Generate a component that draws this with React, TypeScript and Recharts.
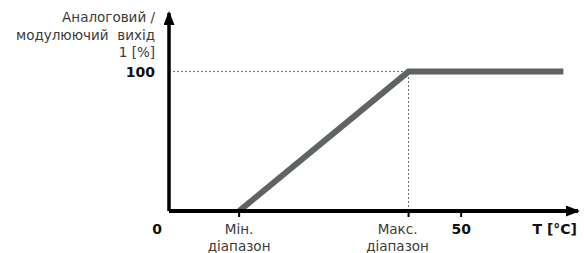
import React from 'react';
import { LineChart, Line, XAxis, YAxis, ReferenceLine } from 'recharts';

// temperature (°C) vs output (%)
const rangeMin = 12;
const rangeMax = 41;
const curveT = [12, 41, 67.5];
const curveOut = [0, 100, 100];
const xTicks = [0, 12, 41, 50, 70];
const xTickLabels: Record<number, string[]> = {
  0: ['0'],
  12: ['Мін.', 'діапазон'],
  41: ['Макс.', 'діапазон'],
  50: ['50'],
  70: ['T [°C]'],
};
const yTicks = [100];
const yTitle = ['Аналоговий /', 'модулюючий  вихід', '1 [%]'];

const data = curveT.map((t, i) => ({ t, out: curveOut[i] }));

const FONT = '"DejaVu Sans", Verdana, sans-serif';
const LINE_COLOR = '#5f6362';
const GUIDE_COLOR = '#6b6b6b';

function XTick({ x, y, payload }: any) {
  const value = payload.value as number;
  const lines = xTickLabels[value] ?? [];
  const bold = value === 0 || value === 50 || value === 70;
  let anchor: 'middle' | 'end' = 'middle';
  let tx = x;
  if (value === 0) tx = x - 12;
  if (value === 70) {
    anchor = 'end';
    tx = x - 1;
  }
  if (value === rangeMax) tx = x - 11;
  const showTick = value === rangeMin || value === rangeMax || value === 50;
  return (
    <g>
      {showTick && <line x1={x} x2={x} y1={y} y2={y + 6} stroke="#000" strokeWidth={2} />}
      <text
        x={tx}
        y={y + 23}
        textAnchor={anchor}
        fontFamily={FONT}
        fontSize={bold ? 14 : 13.5}
        fontWeight={bold ? 'bold' : 'normal'}
        fill={bold ? '#111' : '#3a3a3a'}
      >
        {lines.map((line, i) => (
          <tspan key={i} x={tx} dy={i === 0 ? 0 : 16.5}>
            {line}
          </tspan>
        ))}
      </text>
    </g>
  );
}

function YTick({ x, y, payload }: any) {
  return (
    <text
      x={x - 14}
      y={y}
      dy={5}
      textAnchor="end"
      fontFamily={FONT}
      fontSize={14}
      fontWeight="bold"
      fill="#111"
    >
      {payload.value}
    </text>
  );
}

function YTitle({ viewBox }: any) {
  const right = viewBox.x + viewBox.width - 14;
  return (
    <text
      x={right}
      y={22}
      textAnchor="end"
      fontFamily={FONT}
      fontSize={13.5}
      fill="#3a3a3a"
      style={{ whiteSpace: 'pre' }}
    >
      {yTitle.map((line, i) => (
        <tspan key={i} x={right} dy={i === 0 ? 0 : 17.5}>
          {line}
        </tspan>
      ))}
    </text>
  );
}

export default function App() {
  return (
    <div style={{ position: 'absolute', left: 0, top: 0, background: '#fff' }}>
      <svg width={0} height={0} style={{ position: 'absolute' }}>
        <defs>
          <marker
            id="axis-arrow"
            viewBox="0 0 14 11"
            refX={12}
            refY={5.5}
            markerWidth={14}
            markerHeight={11}
            markerUnits="userSpaceOnUse"
            orient="auto-start-reverse"
          >
            <path d="M0,0 L14,5.5 L0,11 z" fill="#000" />
          </marker>
        </defs>
      </svg>
      <LineChart
        width={584}
        height={253}
        data={data}
        margin={{ top: 13, right: 6, bottom: 0, left: 0 }}
      >
        <XAxis
          dataKey="t"
          type="number"
          domain={[0, 70]}
          ticks={xTicks}
          interval={0}
          tickSize={0}
          tickMargin={0}
          tickLine={false}
          height={42}
          axisLine={{ stroke: '#000', strokeWidth: 4, markerEnd: 'url(#axis-arrow)' }}
          tick={<XTick />}
        />
        <YAxis
          type="number"
          domain={[0, 142]}
          ticks={yTicks}
          width={169}
          tickSize={0}
          tickMargin={0}
          tickLine={false}
          axisLine={{ stroke: '#000', strokeWidth: 3.5, markerStart: 'url(#axis-arrow)' }}
          tick={<YTick />}
          label={{ content: <YTitle /> }}
        />
        <ReferenceLine
          segment={[{ x: 0, y: 100 }, { x: rangeMax, y: 100 }]}
          stroke={GUIDE_COLOR}
          strokeDasharray="2 2"
          strokeWidth={1}
        />
        <ReferenceLine
          segment={[{ x: rangeMax, y: 0 }, { x: rangeMax, y: 100 }]}
          stroke={GUIDE_COLOR}
          strokeDasharray="2 2"
          strokeWidth={1}
        />
        <Line
          type="linear"
          dataKey="out"
          stroke={LINE_COLOR}
          strokeWidth={6}
          dot={false}
          activeDot={false}
          isAnimationActive={false}
        />
      </LineChart>
    </div>
  );
}
